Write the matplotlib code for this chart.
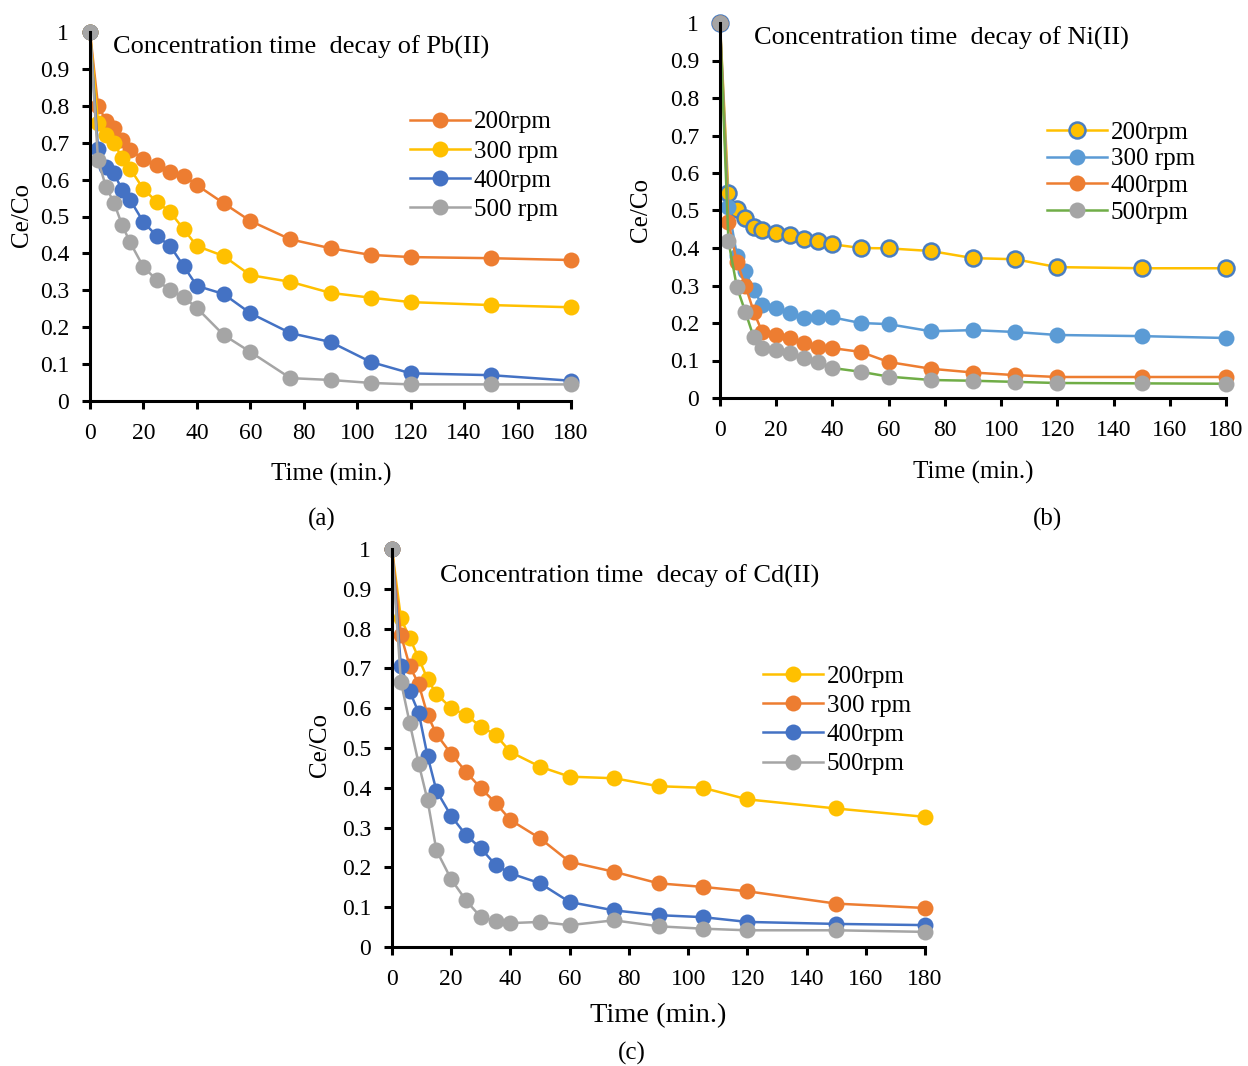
import numpy as np
import matplotlib
matplotlib.use("Agg")
import matplotlib.pyplot as plt
from matplotlib.ticker import FuncFormatter, MultipleLocator

plt.rcParams['font.family'] = ['Liberation Serif', 'DejaVu Serif']

W, H = 1248, 1066

# sampling times (min)
t = [0, 3, 6, 9, 12, 15, 20, 25, 30, 35, 40, 50, 60, 75, 90, 105, 120, 150, 180]

# Pb(II), Ce/Co
pb_200 = [1, 0.80, 0.76, 0.74, 0.707, 0.68, 0.656, 0.64, 0.62, 0.61, 0.585, 0.536, 0.488, 0.438, 0.414, 0.396, 0.39, 0.387, 0.382]
pb_300 = [1, 0.754, 0.72, 0.70, 0.658, 0.63, 0.574, 0.54, 0.512, 0.466, 0.42, 0.393, 0.341, 0.323, 0.293, 0.28, 0.268, 0.26, 0.254]
pb_400 = [1, 0.683, 0.634, 0.617, 0.572, 0.545, 0.485, 0.447, 0.42, 0.366, 0.312, 0.29, 0.238, 0.184, 0.16, 0.106, 0.075, 0.07, 0.055]
pb_500 = [1, 0.653, 0.58, 0.537, 0.477, 0.43, 0.363, 0.328, 0.30, 0.282, 0.252, 0.179, 0.133, 0.062, 0.057, 0.049, 0.045, 0.045, 0.045]

# Ni(II), Ce/Co
ni_200 = [1, 0.546, 0.505, 0.479, 0.455, 0.447, 0.44, 0.434, 0.425, 0.418, 0.41, 0.40, 0.399, 0.392, 0.373, 0.37, 0.349, 0.346, 0.346]
ni_300 = [1, 0.51, 0.38, 0.338, 0.288, 0.248, 0.24, 0.226, 0.213, 0.216, 0.215, 0.20, 0.197, 0.178, 0.181, 0.176, 0.168, 0.165, 0.16]
ni_400 = [1, 0.469, 0.362, 0.30, 0.23, 0.176, 0.168, 0.16, 0.147, 0.136, 0.133, 0.123, 0.096, 0.078, 0.068, 0.061, 0.056, 0.056, 0.056]
ni_500 = [1, 0.418, 0.296, 0.23, 0.162, 0.133, 0.128, 0.12, 0.106, 0.097, 0.08, 0.07, 0.057, 0.048, 0.046, 0.043, 0.04, 0.039, 0.038]

# Cd(II), Ce/Co
cd_200 = [1, 0.826, 0.776, 0.726, 0.673, 0.636, 0.60, 0.583, 0.554, 0.533, 0.49, 0.453, 0.428, 0.424, 0.404, 0.40, 0.371, 0.348, 0.327]
cd_300 = [1, 0.784, 0.705, 0.661, 0.583, 0.535, 0.485, 0.44, 0.399, 0.362, 0.319, 0.273, 0.214, 0.189, 0.16, 0.151, 0.14, 0.109, 0.098]
cd_400 = [1, 0.705, 0.642, 0.589, 0.48, 0.393, 0.329, 0.281, 0.248, 0.206, 0.185, 0.16, 0.113, 0.092, 0.08, 0.075, 0.063, 0.058, 0.055]
cd_500 = [1, 0.667, 0.562, 0.461, 0.369, 0.243, 0.17, 0.117, 0.075, 0.065, 0.06, 0.063, 0.055, 0.067, 0.052, 0.046, 0.042, 0.042, 0.038]

ORANGE = '#ED7D31'
YELLOW = '#FFC000'
BLUE = '#4472C4'
GREY = '#A5A5A5'
LBLUE = '#5B9BD5'
GREEN = '#70AD47'

TXT = 18


def fx(x):
    return x / W


def fy(y):
    return 1 - y / H


def make_axes(fig, left, top, right, bottom):
    ax = fig.add_axes([fx(left), fy(bottom), fx(right - left), (bottom - top) / H])
    ax.set_xlim(0, 180)
    ax.set_ylim(0, 1)
    ax.xaxis.set_major_locator(MultipleLocator(20))
    ax.yaxis.set_major_locator(MultipleLocator(0.1))
    ax.yaxis.set_major_formatter(FuncFormatter(lambda v, p: '%g' % round(v, 1)))
    for s in ('top', 'right'):
        ax.spines[s].set_visible(False)
    for s in ('left', 'bottom'):
        ax.spines[s].set_linewidth(2.2)
        ax.spines[s].set_color('black')
    ax.tick_params(direction='out', length=6, width=2.2, colors='black',
                   labelsize=17)
    ax.tick_params(axis='x', pad=10)
    ax.tick_params(axis='y', pad=9)
    return ax


def draw_series(ax, ys, labels, lines, faces, edges):
    for y, lab, lc, fc, ec in zip(ys, labels, lines, faces, edges):
        ax.plot(t, y, '-o', color=lc, lw=1.8, ms=11.5, mfc=fc, mec=ec,
                mew=1.8 if ec != fc else 0, label=lab, clip_on=False)


def add_legend(ax, x, y, spacing):
    ax.legend(loc='upper left', bbox_to_anchor=(fx(x), fy(y)),
              bbox_transform=fig.transFigure, frameon=False, fontsize=TXT,
              handlelength=2.4, handletextpad=0.15, labelspacing=spacing,
              borderaxespad=0, borderpad=0)


fig = plt.figure(figsize=(W / 100, H / 100), dpi=100)

# (a) Pb(II)
ax_a = make_axes(fig, 90, 32, 571, 401)
draw_series(ax_a, [pb_200, pb_300, pb_400, pb_500],
            ['200rpm', '300 rpm', '400rpm', '500 rpm'],
            [ORANGE, YELLOW, BLUE, GREY], [ORANGE, YELLOW, BLUE, GREY],
            [ORANGE, YELLOW, BLUE, GREY])
add_legend(ax_a, 410, 111, 0.27)
fig.text(fx(113), fy(47), 'Concentration time  decay of Pb(II)', fontsize=19,
         ha='left', va='center')
fig.text(fx(331), fy(474), 'Time (min.)', fontsize=TXT, ha='center', va='center')
fig.text(fx(22), fy(215), 'Ce/Co', fontsize=TXT, rotation=90, ha='center', va='center')
fig.text(fx(322), fy(519), '(a)', fontsize=TXT, ha='center', va='center')

# (b) Ni(II)
ax_b = make_axes(fig, 720, 23, 1226, 398)
draw_series(ax_b, [ni_200, ni_300, ni_400, ni_500],
            ['200rpm', '300 rpm', '400rpm', '500rpm'],
            [YELLOW, LBLUE, ORANGE, GREEN], [YELLOW, LBLUE, ORANGE, GREY],
            ['#4A7EC0', LBLUE, ORANGE, GREY])
add_legend(ax_b, 1047, 121, 0.17)
fig.text(fx(754), fy(38), 'Concentration time  decay of Ni(II)', fontsize=19,
         ha='left', va='center')
fig.text(fx(973), fy(472), 'Time (min.)', fontsize=TXT, ha='center', va='center')
fig.text(fx(641), fy(210), 'Ce/Co', fontsize=TXT, rotation=90, ha='center', va='center')
fig.text(fx(1048), fy(519), '(b)', fontsize=TXT, ha='center', va='center')

# (c) Cd(II)
ax_c = make_axes(fig, 392, 549, 925, 947)
draw_series(ax_c, [cd_200, cd_300, cd_400, cd_500],
            ['200rpm', '300 rpm', '400rpm', '500rpm'],
            [YELLOW, ORANGE, BLUE, GREY], [YELLOW, ORANGE, BLUE, GREY],
            [YELLOW, ORANGE, BLUE, GREY])
add_legend(ax_c, 763, 665, 0.27)
fig.text(fx(440), fy(576), 'Concentration time  decay of Cd(II)', fontsize=19,
         ha='left', va='center')
fig.text(fx(658), fy(1016), 'Time (min.)', fontsize=20.5, ha='center', va='center')
fig.text(fx(320), fy(745), 'Ce/Co', fontsize=TXT, rotation=90, ha='center', va='center')
fig.text(fx(632), fy(1053), '(c)', fontsize=TXT, ha='center', va='center')

fig.savefig('out.png', dpi=100, facecolor='white')
